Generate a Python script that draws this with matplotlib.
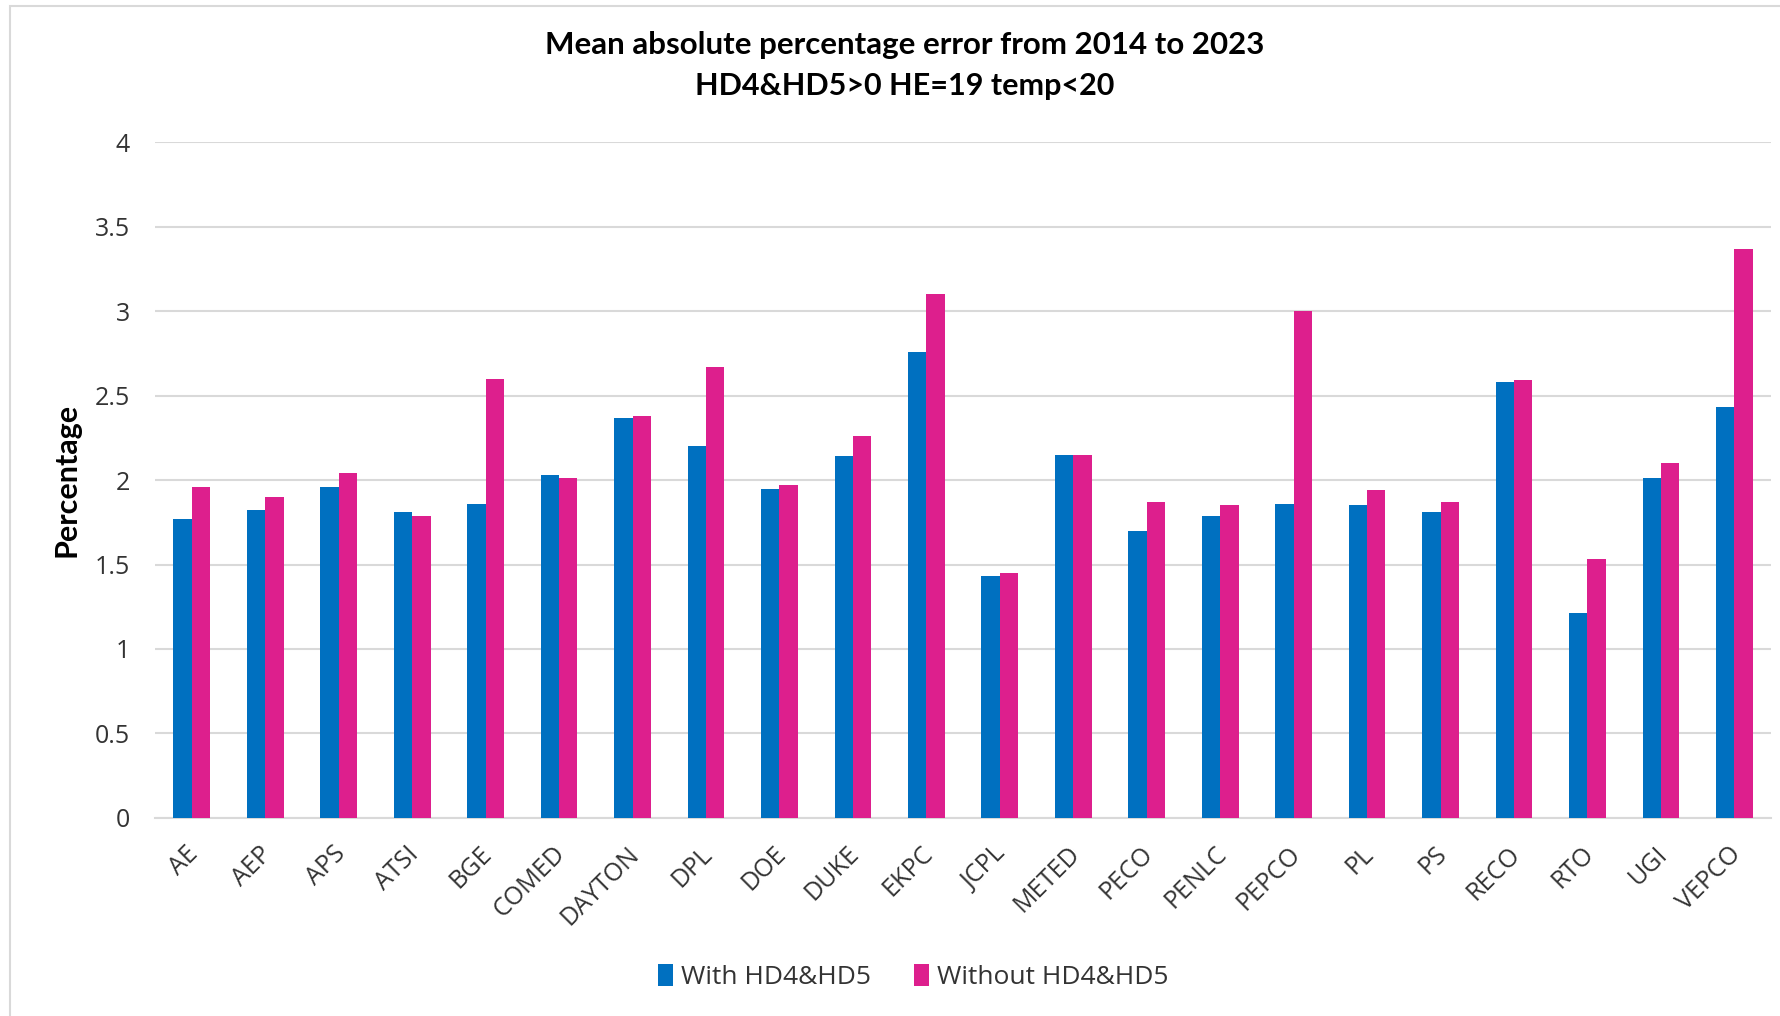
import matplotlib
matplotlib.use("Agg")
import matplotlib.pyplot as plt
import matplotlib.transforms as mtransforms
import numpy as np
from matplotlib.patches import Rectangle

zones = ["AE", "AEP", "APS", "ATSI", "BGE", "COMED", "DAYTON", "DPL", "DOE",
         "DUKE", "EKPC", "JCPL", "METED", "PECO", "PENLC", "PEPCO", "PL", "PS",
         "RECO", "RTO", "UGI", "VEPCO"]
with_hd = [1.77, 1.82, 1.96, 1.81, 1.86, 2.03, 2.37, 2.20, 1.95,
           2.14, 2.76, 1.43, 2.15, 1.70, 1.79, 1.86, 1.85, 1.81,
           2.58, 1.21, 2.01, 2.43]
without_hd = [1.96, 1.90, 2.04, 1.79, 2.60, 2.01, 2.38, 2.67, 1.97,
              2.26, 3.10, 1.45, 2.15, 1.87, 1.85, 3.00, 1.94, 1.87,
              2.59, 1.53, 2.10, 3.37]
y_ticks = [0, 0.5, 1, 1.5, 2, 2.5, 3, 3.5, 4]
y_tick_labels = ["0", "0.5", "1", "1.5", "2", "2.5", "3", "3.5", "4"]

BLUE = "#0070C0"
PINK = "#DD1F8D"
GRID = "#D9D9D9"
TEXT = "#333333"

fig = plt.figure(figsize=(17.8, 10.16), dpi=100)
ax = fig.add_axes([0.0871, 0.195, 0.9079, 0.665])

x = np.arange(len(zones))
w = 0.25
ax.bar(x - w / 2, with_hd, w, color=BLUE, label="With HD4&HD5", zorder=3)
ax.bar(x + w / 2, without_hd, w, color=PINK, label="Without HD4&HD5", zorder=3)

ax.set_xlim(-0.5, len(zones) - 0.5)
ax.set_ylim(0, 4)
ax.set_yticks(y_ticks)
ax.set_yticklabels(y_tick_labels, fontsize=18, color=TEXT, family="Open Sans")
ax.yaxis.grid(True, color=GRID, linewidth=1.5, zorder=0)
ax.set_axisbelow(True)
ax.tick_params(axis="both", length=0)
ax.tick_params(axis="y", pad=18)

ax.set_xticks(x)
ax.set_xticklabels(zones, rotation=45, ha="right", rotation_mode="anchor",
                   fontsize=18, color=TEXT, family="Open Sans")
ax.tick_params(axis="x", pad=17)
# nudge rotated labels slightly left
shift = mtransforms.ScaledTranslation(-0.06, 0, fig.dpi_scale_trans)
for lbl in ax.get_xticklabels():
    lbl.set_transform(lbl.get_transform() + shift)

for side in ["left", "right", "top"]:
    ax.spines[side].set_visible(False)
ax.spines["bottom"].set_color(GRID)
ax.spines["bottom"].set_linewidth(1.5)

ax.set_ylabel("Percentage", fontsize=22, fontweight="bold", family="Lato",
              color="black", labelpad=10)

fig.text(0.508, 0.956, "Mean absolute percentage error from 2014 to 2023",
         ha="center", va="center", fontsize=22.5, fontweight="bold", family="Lato")
fig.text(0.508, 0.915, "HD4&HD5>0 HE=19 temp<20",
         ha="center", va="center", fontsize=22, fontweight="bold", family="Lato")

fig.legend(loc="center", bbox_to_anchor=(0.513, 0.038), ncol=2, frameon=False,
           handlelength=0.6, handleheight=0.9, handletextpad=0.3,
           columnspacing=1.6, prop={"family": "Open Sans", "size": 19},
           labelcolor=TEXT)

# outer chart border
fig.patches.append(Rectangle((0.0056, -0.01), 1.1, 1.004, transform=fig.transFigure,
                             fill=False, edgecolor=GRID, linewidth=1.5))

fig.savefig("out.png", dpi=100, facecolor="white")
